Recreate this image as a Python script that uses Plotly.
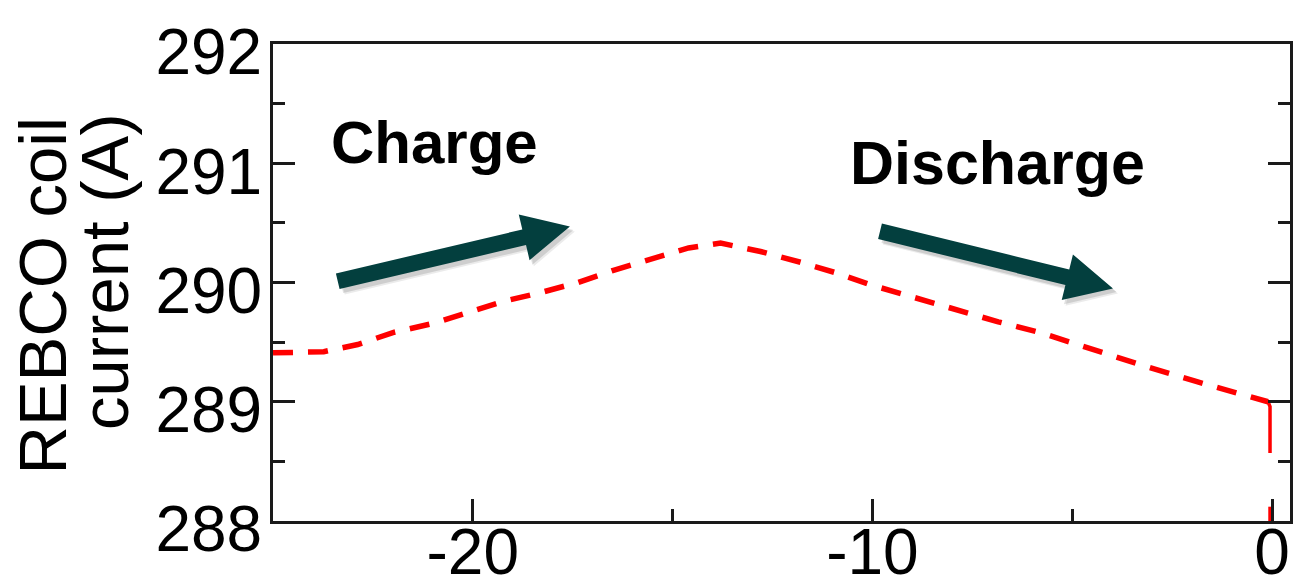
import math
import plotly.graph_objects as go

# Coil current record (time axis, current in A)
time_axis = [-25.0, -24.78, -23.73, -22.88, -22.0, -20.95, -20.08, -19.25, -18.25,
             -17.37, -16.5, -15.62, -14.6, -13.8, -12.8, -11.8, -10.9, -10.04,
             -8.9, -7.9, -6.85, -5.8, -4.9, -4.0, -3.1, -1.9, -0.85, -0.1]
coil_current = [289.41, 289.41, 289.42, 289.48, 289.58, 289.66, 289.75, 289.84, 289.92,
                290.00, 290.10, 290.19, 290.29, 290.33, 290.26, 290.17, 290.08, 289.98,
                289.87, 289.77, 289.67, 289.58, 289.48, 289.38, 289.29, 289.17, 289.07, 289.00]

# Final current drop at t = 0
drop_time = [-0.1, -0.05, -0.05, None, -0.05, -0.05]
drop_current = [289.0, 288.96, 288.57, None, 288.12, 288.0]

x_ticks = [-20, -10, 0]
y_ticks = [288, 289, 290, 291, 292]
x_range = [-25.0, 0.45]
y_range = [288.0, 292.0]

# Arrow endpoints (tail, tip) in data units
charge_arrow = ((-23.38, 290.01), (-17.57, 290.47))
discharge_arrow = ((-9.81, 290.43), (-3.98, 289.95))

W, H = 1294, 585
ML, MR, MT, MB = 273, 4, 44, 64
PW, PH = W - ML - MR, H - MT - MB

FONT = "Arial, Liberation Sans, sans-serif"
AXIS_COLOR = "#1a1a1a"
ARROW_COLOR = "#033f3e"


def data_to_px(x, y):
    px = ML + (x - x_range[0]) / (x_range[1] - x_range[0]) * PW
    py = MT + (y_range[1] - y) / (y_range[1] - y_range[0]) * PH
    return px, py


def px_to_paper(px, py):
    return (px - ML) / PW, (H - MB - py) / PH


def arrow_path(tail, tip, shaft=16.0, head_len=47.0, head_half=23.5, dx=0.0, dy=0.0):
    tx, ty = data_to_px(*tail)
    hx, hy = data_to_px(*tip)
    L = math.hypot(hx - tx, hy - ty)
    ux, uy = (hx - tx) / L, (hy - ty) / L
    nx, ny = -uy, ux
    bx, by = hx - ux * head_len, hy - uy * head_len
    s = shaft / 2
    pts = [
        (tx + nx * s, ty + ny * s),
        (bx + nx * s, by + ny * s),
        (bx + nx * head_half, by + ny * head_half),
        (hx, hy),
        (bx - nx * head_half, by - ny * head_half),
        (bx - nx * s, by - ny * s),
        (tx - nx * s, ty - ny * s),
    ]
    pp = [px_to_paper(px + dx, py + dy) for px, py in pts]
    return "M " + " L ".join(f"{a:.5f},{b:.5f}" for a, b in pp) + " Z"


fig = go.Figure()

fig.add_trace(go.Scatter(
    x=time_axis, y=coil_current, mode="lines",
    line=dict(color="#ff0000", width=5.5, dash="20px,15px"),
    hoverinfo="skip", showlegend=False,
))
fig.add_trace(go.Scatter(
    x=drop_time, y=drop_current, mode="lines",
    line=dict(color="#ff0000", width=3.5),
    connectgaps=False, hoverinfo="skip", showlegend=False,
))

shapes = []
for tail, tip in (charge_arrow, discharge_arrow):
    # soft drop shadow
    for off, alpha in ((5, 0.08), (3.5, 0.12)):
        shapes.append(dict(type="path", xref="paper", yref="paper",
                           path=arrow_path(tail, tip, shaft=17, head_len=48, head_half=24.5, dx=off, dy=off),
                           fillcolor=f"rgba(0,0,0,{alpha})", line=dict(width=0), layer="below"))
    shapes.append(dict(type="path", xref="paper", yref="paper",
                       path=arrow_path(tail, tip),
                       fillcolor=ARROW_COLOR, line=dict(width=0), layer="above"))

annotations = [
    dict(text="<b>Charge</b>", xref="paper", yref="paper",
         x=px_to_paper(434, 0)[0], y=px_to_paper(0, 143)[1],
         xanchor="center", yanchor="middle", showarrow=False,
         font=dict(family=FONT, size=60, color="black")),
    dict(text="<b>Discharge</b>", xref="paper", yref="paper",
         x=px_to_paper(997, 0)[0], y=px_to_paper(0, 163)[1],
         xanchor="center", yanchor="middle", showarrow=False,
         font=dict(family=FONT, size=61, color="black")),
    dict(text="REBCO coil", xref="paper", yref="paper", textangle=-90,
         x=px_to_paper(42, 0)[0], y=px_to_paper(0, 116)[1],
         xanchor="center", yanchor="top", showarrow=False,
         font=dict(family=FONT, size=67, color="black")),
    dict(text="current (A)", xref="paper", yref="paper", textangle=-90,
         x=px_to_paper(104, 0)[0], y=px_to_paper(0, 112)[1],
         xanchor="center", yanchor="top", showarrow=False,
         font=dict(family=FONT, size=67, color="black")),
]

fig.update_layout(
    width=W, height=H,
    margin=dict(l=ML, r=MR, t=MT, b=MB, pad=0, autoexpand=False),
    paper_bgcolor="white", plot_bgcolor="white",
    showlegend=False,
    shapes=shapes, annotations=annotations,
    xaxis=dict(
        range=x_range, tickvals=x_ticks, ticktext=[str(v) for v in x_ticks],
        ticks="inside", ticklen=22, tickwidth=2.5, tickcolor=AXIS_COLOR,
        minor=dict(dtick=5, tick0=0, ticks="inside", ticklen=12, tickwidth=2.5, tickcolor=AXIS_COLOR),
        showline=True, linecolor=AXIS_COLOR, linewidth=3, mirror=True,
        showgrid=False, zeroline=False, automargin=False,
        tickfont=dict(family=FONT, size=64, color="black"),
        ticklabelstandoff=-27,
    ),
    yaxis=dict(
        range=y_range, tickvals=y_ticks, ticktext=[str(v) for v in y_ticks],
        ticks="inside", ticklen=22, tickwidth=2.5, tickcolor=AXIS_COLOR,
        minor=dict(dtick=0.5, tick0=288, ticks="inside", ticklen=12, tickwidth=2.5, tickcolor=AXIS_COLOR),
        showline=True, linecolor=AXIS_COLOR, linewidth=3, mirror="ticks",
        showgrid=False, zeroline=False, automargin=False,
        tickfont=dict(family=FONT, size=64, color="black"),
        ticklabelstandoff=-5, ticklabelshift=8,
    ),
)

fig.write_html("out.html")
